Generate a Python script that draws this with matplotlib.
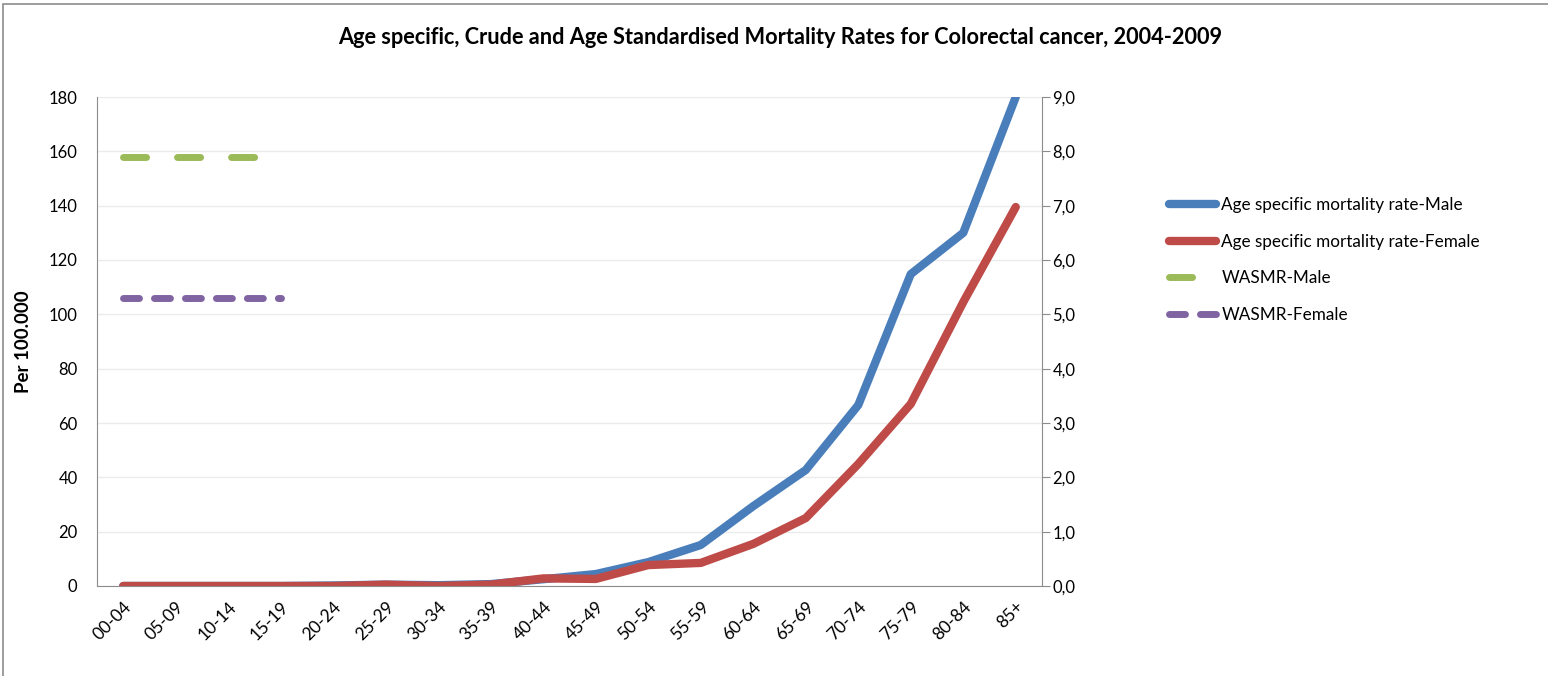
import matplotlib
matplotlib.use("Agg")
import matplotlib.pyplot as plt
from matplotlib.patches import Rectangle
from matplotlib.ticker import FuncFormatter

plt.rcParams['font.family'] = ['Lato', 'DejaVu Sans']
plt.rcParams['lines.scale_dashes'] = False

# age groups and rates per 100.000
age_groups = ['00-04', '05-09', '10-14', '15-19', '20-24', '25-29', '30-34', '35-39', '40-44',
              '45-49', '50-54', '55-59', '60-64', '65-69', '70-74', '75-79', '80-84', '85+']
male_rate = [0, 0, 0, 0, 0.2, 0.5, 0.3, 0.7, 2.5, 4.4, 8.8, 15.1, 29.4, 42.7, 66.6, 114.8, 130, 180]
female_rate = [0, 0, 0, 0, 0, 0.5, 0, 0.5, 2.8, 2.6, 7.7, 8.5, 15.5, 25, 44.9, 67, 104.5, 139.5]

# world age standardised rates (secondary axis), drawn over the first groups
wasmr_groups = ['00-04', '05-09', '10-14', '15-19']
wasmr_male = [7.9, 7.9, 7.9, 7.9]
wasmr_female = [5.3, 5.3, 5.3, 5.3]

W, H = 1548, 676
fig = plt.figure(figsize=(W / 100, H / 100), dpi=100)

# outer chart frame
fig.patches.append(Rectangle((3 / W, -0.1), 1.2, (H - 4) / H + 0.1, transform=fig.transFigure,
                             fill=False, edgecolor='#8c8c8c', linewidth=1.2))

ax = fig.add_axes([97 / W, 90 / H, (1042 - 97) / W, (586 - 97) / H])
x = list(range(len(age_groups)))
blue, = ax.plot(x, male_rate, color='#4a7ebb', linewidth=6, solid_capstyle='round',
                solid_joinstyle='round', label='Age specific mortality rate-Male')
red, = ax.plot(x, female_rate, color='#be4b48', linewidth=6, solid_capstyle='round',
               solid_joinstyle='round', label='Age specific mortality rate-Female')
ax.set_xlim(-0.5, len(age_groups) - 0.5)
ax.set_ylim(0, 180)
ax.set_yticks(range(0, 181, 20))
ax.set_xticks(x)
ax.set_xticklabels(age_groups, rotation=45, ha='right', rotation_mode='anchor', fontsize=12.5)
ax.tick_params(axis='y', length=0, labelsize=12, pad=14)
ax.tick_params(axis='x', length=0, pad=9)
ax.grid(axis='y', color='#ebebeb', linewidth=1)
ax.set_axisbelow(True)
for s in ['top', 'right']:
    ax.spines[s].set_visible(False)
for s in ['left', 'bottom']:
    ax.spines[s].set_color('#8c8c8c')
ax.set_ylabel('Per 100.000', fontsize=13.5, fontweight='bold', labelpad=12)

ax2 = ax.twinx()
wx = [age_groups.index(g) for g in wasmr_groups]
green, = ax2.plot(wx, wasmr_male, color='#9bbb59', linewidth=5, dash_capstyle='round',
                  dashes=(16.6, 22.3), label='WASMR-Male')
purple, = ax2.plot(wx, wasmr_female, color='#8064a2', linewidth=5, dash_capstyle='round',
                   dashes=(11.5, 10.8), label='WASMR-Female')
ax2.set_ylim(0, 9)
ax2.set_yticks(range(0, 10))
ax2.yaxis.set_major_formatter(FuncFormatter(lambda v, p: f'{v:.1f}'.replace('.', ',')))
ax2.tick_params(axis='y', length=6, color='#8c8c8c', labelsize=12, pad=1.5)
for s in ['top', 'left', 'bottom']:
    ax2.spines[s].set_visible(False)
ax2.spines['right'].set_color('#8c8c8c')

fig.text(780 / W, 1 - 37 / H, 'Age specific, Crude and Age Standardised Mortality Rates for Colorectal cancer, 2004-2009',
         ha='center', va='center', fontsize=15.7, fontweight='bold')

fig.legend(handles=[blue, red, green, purple], loc='upper left', bbox_to_anchor=(1168.5 / W, 1 - 197 / H),
           frameon=False, fontsize=12.3, handlelength=2.8, handletextpad=0.3, labelspacing=1.2,
           borderaxespad=0, borderpad=0)

fig.savefig('out.png', dpi=100)
